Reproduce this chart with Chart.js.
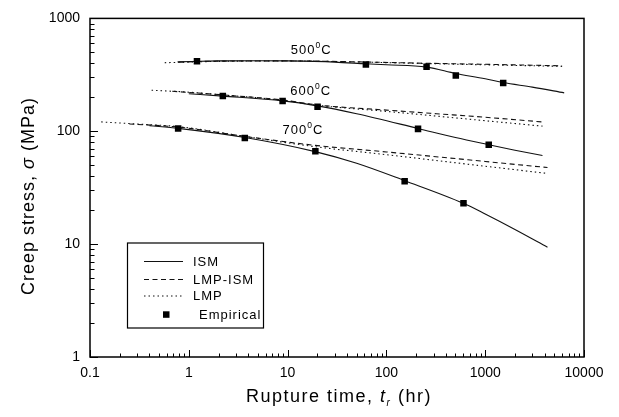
<!DOCTYPE html>
<html>
<head>
<meta charset="utf-8">
<script src="https://cdn.jsdelivr.net/npm/chart.js@4.4.1/dist/chart.umd.min.js"></script>
<style>
    html, body { margin: 0; padding: 0; background: #fff; }
    .wrap { width: 619px; height: 417px; position: relative; }
</style>
</head>
<body>
<div class="wrap"><canvas id="creepChart"></canvas></div>
<script>
// rupture time (hr) / creep stress (MPa)
var ism500T = [0.77, 2, 5, 10, 30, 62, 100, 255, 504, 1000, 1521, 3000, 6300];
var ism500S = [412, 420, 422, 420, 410, 396, 388, 370, 325, 292, 270, 246, 219];
var lmpIsm500T = [0.8, 2, 10, 50, 200, 1000, 6000];
var lmpIsm500S = [410, 418, 420, 412, 402, 392, 380];
var lmp500T = [0.57, 2, 10, 50, 200, 1000, 6000];
var lmp500S = [405, 416, 420, 411, 400, 388, 376];

var ism600T = [1.0, 2.2, 9, 20, 50, 209, 500, 1086, 2000, 3800];
var ism600S = [215, 205, 186, 168, 143, 106, 88, 76, 68, 61];
var lmpIsm600T = [0.68, 2.2, 9, 20, 100, 1000, 3800];
var lmpIsm600S = [226, 210, 189, 171, 154, 133, 121];
var lmp600T = [0.42, 1, 2.2, 9, 20, 100, 1000, 3800];
var lmp600S = [231, 222, 210, 188, 170, 150, 124, 111];

var ism700T = [0.4, 0.78, 3.7, 19, 50, 153, 603, 1000, 2000, 4270];
var ism700S = [112, 106, 88, 66, 52, 36.5, 23, 18.5, 13.5, 9.4];
var lmpIsm700T = [0.25, 0.78, 3.7, 19, 100, 1000, 4270];
var lmpIsm700S = [116, 109, 90, 75, 65.6, 54, 47.7];
var lmp700T = [0.13, 0.3, 0.78, 3.7, 19, 100, 1000, 4270];
var lmp700S = [121, 116, 110, 90, 73, 62, 49, 42.3];

var emp500T = [1.21, 62, 255, 504, 1521];
var emp500S = [418, 390, 372, 312, 268];
var emp600T = [2.21, 8.9, 20.1, 209, 1086];
var emp600S = [205, 185, 165, 105, 76];
var emp700T = [0.78, 3.69, 19.1, 153, 603];
var emp700S = [106, 87, 66.6, 36.1, 23];

var xTicks = [0.1, 1, 10, 100, 1000, 10000];
var yTicks = [1, 10, 100, 1000];
var tempLabels = ['500', '600', '700'];
var legendLabels = ['ISM', 'LMP-ISM', 'LMP', 'Empirical'];

var FONT = '"Liberation Sans", Arial, Helvetica, sans-serif';
var INK = '#111';
var DASH = [5, 3.5];
var DOT = [1.5, 3];

function pts(t, s) {
    return t.map(function (v, i) {
        return {x: v, y: s[i]};
    });
}

function curve(t, s, dash) {
    return {
        data: pts(t, s),
        borderColor: INK,
        borderWidth: 1.1,
        borderDash: dash,
        pointRadius: 0,
        cubicInterpolationMode: 'monotone',
        fill: false,
        order: 1
    };
}

function empirical(t, s) {
    return {
        data: pts(t, s),
        showLine: false,
        pointStyle: 'rect',
        pointRadius: 4.6,
        backgroundColor: '#000',
        borderColor: '#000',
        borderWidth: 0,
        order: 0
    };
}

function logMinor(min, max) {
    var out = [];
    for (var d = min; d < max; d *= 10) {
        for (var k = 2; k <= 9; k++) out.push(d * k);
    }
    return out;
}

function textRuns(ctx, runs, x, y) {
    runs.forEach(function (r) {
        ctx.font = r.font;
        ctx.fillText(r.text, x, y + (r.dy || 0));
        x += ctx.measureText(r.text).width;
    });
}

function runsWidth(ctx, runs) {
    var w = 0;
    runs.forEach(function (r) {
        ctx.font = r.font;
        w += ctx.measureText(r.text).width;
    });
    return w;
}

var framePlugin = {
    id: 'frame',
    afterDraw: function (chart) {
        var ctx = chart.ctx;
        var a = chart.chartArea;
        var xs = chart.scales.x;
        var ys = chart.scales.y;
        ctx.save();

        // box
        ctx.strokeStyle = '#000';
        ctx.lineWidth = 1.5;
        ctx.setLineDash([]);
        ctx.strokeRect(a.left, a.top, a.right - a.left, a.bottom - a.top);

        // inward ticks
        ctx.lineWidth = 1;
        ctx.beginPath();
        xTicks.forEach(function (v) {
            var px = Math.round(xs.getPixelForValue(v)) + 0.5;
            ctx.moveTo(px, a.bottom);
            ctx.lineTo(px, a.bottom - 7);
        });
        logMinor(0.1, 10000).forEach(function (v) {
            var px = Math.round(xs.getPixelForValue(v)) + 0.5;
            ctx.moveTo(px, a.bottom);
            ctx.lineTo(px, a.bottom - 3.5);
        });
        yTicks.forEach(function (v) {
            var py = Math.round(ys.getPixelForValue(v)) + 0.5;
            ctx.moveTo(a.left, py);
            ctx.lineTo(a.left + 8, py);
        });
        logMinor(1, 1000).forEach(function (v) {
            var py = Math.round(ys.getPixelForValue(v)) + 0.5;
            ctx.moveTo(a.left, py);
            ctx.lineTo(a.left + 4.5, py);
        });
        ctx.stroke();

        ctx.fillStyle = '#000';
        ctx.textBaseline = 'alphabetic';
        ctx.textAlign = 'left';
        ctx.letterSpacing = '1px';

        // temperature labels, anchored in data units
        var anchors = [[17.3, 486], [17.1, 208], [14.3, 94.6]];
        tempLabels.forEach(function (t, i) {
            var runs = [
                {text: t, font: '13px ' + FONT},
                {text: '0', font: '8.5px ' + FONT, dy: -6},
                {text: 'C', font: '13px ' + FONT}
            ];
            var w = runsWidth(ctx, runs);
            var cx = xs.getPixelForValue(anchors[i][0]);
            var by = ys.getPixelForValue(anchors[i][1]);
            textRuns(ctx, runs, cx - w / 2, by);
        });

        // x title
        var xRuns = [
            {text: 'Rupture time, ', font: '18px ' + FONT},
            {text: 't', font: 'italic 18px ' + FONT},
            {text: 'r', font: 'italic 10px ' + FONT, dy: 4},
            {text: ' (hr)', font: '18px ' + FONT}
        ];
        ctx.letterSpacing = '1.5px';
        var xw = runsWidth(ctx, xRuns);
        textRuns(ctx, xRuns, (a.left + a.right) / 2 + 2 - xw / 2, 402);

        // y title
        var yRuns = [
            {text: 'Creep stress, ', font: '18px ' + FONT},
            {text: '\u03c3', font: 'italic 18px ' + FONT},
            {text: ' (MPa)', font: '18px ' + FONT}
        ];
        ctx.letterSpacing = '1px';
        var yw = runsWidth(ctx, yRuns);
        ctx.translate(34, 196);
        ctx.rotate(-Math.PI / 2);
        textRuns(ctx, yRuns, -yw / 2, 0);
        ctx.setTransform(1, 0, 0, 1, 0, 0);

        // legend
        var lx = 127.5, ly = 243, lw = 136, lh = 85;
        ctx.fillStyle = '#fff';
        ctx.fillRect(lx, ly, lw, lh);
        ctx.strokeStyle = '#000';
        ctx.lineWidth = 1.2;
        ctx.strokeRect(lx, ly, lw, lh);
        var rows = [261.5, 279.5, 296, 314.5];
        var dashes = [[], DASH, DOT];
        ctx.lineWidth = 1.1;
        ctx.strokeStyle = INK;
        for (var i = 0; i < 3; i++) {
            ctx.setLineDash(dashes[i]);
            ctx.beginPath();
            ctx.moveTo(144, rows[i]);
            ctx.lineTo(183, rows[i]);
            ctx.stroke();
        }
        ctx.setLineDash([]);
        ctx.fillStyle = '#000';
        ctx.fillRect(163, rows[3] - 3.2, 6.5, 6.5);
        ctx.font = '13px ' + FONT;
        ctx.letterSpacing = '1px';
        ctx.textBaseline = 'middle';
        legendLabels.forEach(function (t, i) {
            ctx.fillText(t, i === 3 ? 199 : 193, rows[i] + 0.5);
        });

        ctx.restore();
    }
};

new Chart(document.getElementById('creepChart'), {
    type: 'line',
    data: {
        datasets: [
            empirical(emp500T, emp500S),
            empirical(emp600T, emp600S),
            empirical(emp700T, emp700S),
            curve(ism500T, ism500S, []),
            curve(lmpIsm500T, lmpIsm500S, DASH),
            curve(lmp500T, lmp500S, DOT),
            curve(ism600T, ism600S, []),
            curve(lmpIsm600T, lmpIsm600S, DASH),
            curve(lmp600T, lmp600S, DOT),
            curve(ism700T, ism700S, []),
            curve(lmpIsm700T, lmpIsm700S, DASH),
            curve(lmp700T, lmp700S, DOT)
        ]
    },
    options: {
        responsive: true,
        maintainAspectRatio: false,
        animation: false,
        layout: {padding: {top: 15, right: 35, left: 0, bottom: 0}},
        plugins: {legend: {display: false}, tooltip: {enabled: false}},
        scales: {
            x: {
                type: 'logarithmic',
                min: 0.1,
                max: 10000,
                grid: {display: false, drawTicks: false},
                border: {display: false},
                afterBuildTicks: function (scale) {
                    scale.ticks = xTicks.map(function (v) {
                        return {value: v};
                    });
                },
                afterFit: function (scale) {
                    scale.height = 60;
                },
                ticks: {
                    color: '#000',
                    padding: 8,
                    maxRotation: 0,
                    autoSkip: false,
                    font: {family: FONT, size: 14},
                    callback: function (v) {
                        return v < 1 ? '0.1' : String(v);
                    }
                }
            },
            y: {
                type: 'logarithmic',
                min: 1,
                max: 1000,
                grid: {display: false, drawTicks: false},
                border: {display: false},
                afterBuildTicks: function (scale) {
                    scale.ticks = yTicks.map(function (v) {
                        return {value: v};
                    });
                },
                afterFit: function (scale) {
                    scale.width = 90;
                },
                ticks: {
                    color: '#000',
                    padding: 10,
                    autoSkip: false,
                    font: {family: FONT, size: 14},
                    callback: function (v) {
                        return String(v);
                    }
                }
            }
        }
    },
    plugins: [framePlugin]
});
</script>
</body>
</html>
